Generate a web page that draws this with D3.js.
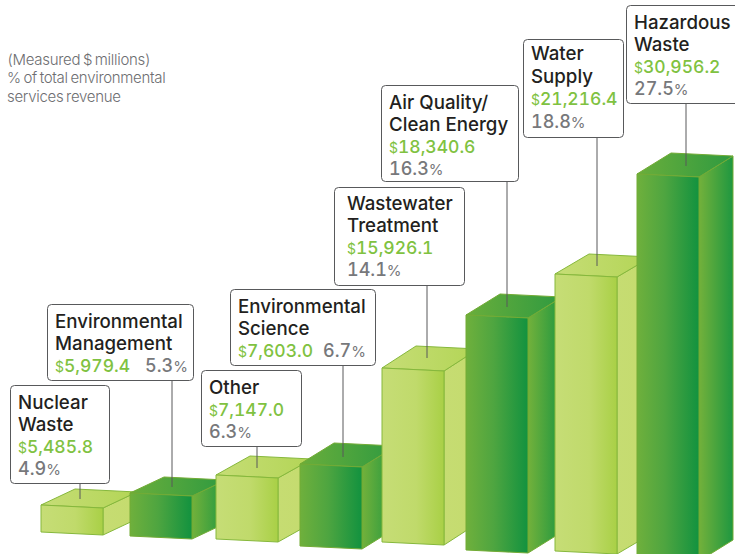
<!DOCTYPE html>
<html>
<head>
<meta charset="utf-8">
<script src="https://cdn.jsdelivr.net/npm/d3@7"></script>
<style>
  body { margin: 0; background: #fff; }
  svg { display: block; }
  text { font-family: Inter, "Liberation Sans", sans-serif; font-variant-numeric: tabular-nums; }
</style>
</head>
<body>
<div id="chart"></div>
<script>
const categories = ["Nuclear Waste", "Environmental Management", "Other", "Environmental Science",
  "Wastewater Treatment", "Air Quality/ Clean Energy", "Water Supply", "Hazardous Waste"];
const nameLines = [["Nuclear", "Waste"], ["Environmental", "Management"], ["Other"], ["Environmental", "Science"],
  ["Wastewater", "Treatment"], ["Air Quality/", "Clean Energy"], ["Water", "Supply"], ["Hazardous", "Waste"]];
const revenue = [5485.8, 5979.4, 7147.0, 7603.0, 15926.1, 18340.6, 21216.4, 30956.2];
const share = [4.9, 5.3, 6.3, 6.7, 14.1, 16.3, 18.8, 27.5];
const noteLines = ["(Measured $ millions)", "% of total environmental", "services revenue"];

// the bars in the source are not drawn to a linear scale, so the height scale is piecewise
const heightStops = [27, 43, 64, 82, 174, 235, 277, 384];
const leftStops = [41, 130, 216, 300, 382, 466, 555, 637];
const baseStops = [532, 536, 539, 546, 542, 550, 551, 558];
const depthStops = [16, 16, 19, 21, 22, 21, 20, 21];

// callout boxes: x, y, w, h, leader x, leader end y, text inset, first baseline, row gap, x of pct when on the value row
const boxes = [
  { x: 10, y: 385, w: 99, h: 98, lx: 80, ly: 499, pad: 8, first: 24, gap: 22 },
  { x: 47, y: 304, w: 146, h: 76, lx: 172, ly: 487, pad: 8, first: 24, gap: 22, pctX: 145 },
  { x: 201, y: 370, w: 100, h: 76, lx: 257, ly: 468, pad: 8, first: 24, gap: 22 },
  { x: 230, y: 289, w: 145, h: 76, lx: 343, ly: 457, pad: 8, first: 24, gap: 22, pctX: 323 },
  { x: 334, y: 187, w: 130, h: 98, lx: 427, ly: 358, pad: 13, first: 23, gap: 22 },
  { x: 381, y: 85, w: 137, h: 96, lx: 507, ly: 307, pad: 8, first: 24, gap: 22 },
  { x: 523, y: 39, w: 100, h: 98, lx: 597, ly: 266, pad: 8, first: 21, gap: 22.6 },
  { x: 626, y: 5, w: 120, h: 98, lx: 686, ly: 166, pad: 8, first: 24, gap: 22 }
];

const width = 735, height = 554;
const barW = 62, depthX = 34, tilt = 3;

const svg = d3.select("#chart").append("svg")
  .attr("width", width)
  .attr("height", height);

const h = d3.scaleLinear().domain(revenue).range(heightStops);
const left = d3.scaleOrdinal().domain(categories).range(leftStops);
const base = d3.scaleOrdinal().domain(categories).range(baseStops);
const depth = d3.scaleOrdinal().domain(categories).range(depthStops);

const defs = svg.append("defs");
function gradient(id, stops) {
  const g = defs.append("linearGradient").attr("id", id);
  stops.forEach(s => g.append("stop").attr("offset", s[0]).attr("stop-color", s[1]));
}
gradient("lightFront", [[0, "#c6dd76"], [0.55, "#c0da6b"], [1, "#a9d046"]]);
gradient("lightTop", [[0, "#c6dd76"], [1, "#b3d556"]]);
gradient("lightSide", [[0, "#c6dc72"], [1, "#c4db6e"]]);
gradient("darkFront", [[0, "#6fb03c"], [0.45, "#4ea540"], [1, "#12923f"]]);
gradient("darkTop", [[0, "#6aae3b"], [1, "#2f9a40"]]);
gradient("darkSide", [[0, "#73b13b"], [1, "#1e9740"]]);

const line = d3.line().curve(d3.curveLinearClosed);

const rows = categories.map((c, i) => {
  const x0 = left(c), x1 = x0 + barW, yb = base(c), yt = yb - h(revenue[i]), d = depth(c);
  return { c, i, x0, x1, yb, yt, d, kind: i % 2 ? "dark" : "light" };
});

const bars = svg.append("g").selectAll("g").data(rows).join("g")
  .attr("stroke", d => d.kind === "dark" ? "#72ab35" : "#86b83c")
  .attr("stroke-width", 1)
  .attr("stroke-linejoin", "round");

bars.append("path")
  .attr("fill", d => `url(#${d.kind}Side)`)
  .attr("d", d => line([[d.x1, d.yt + tilt], [d.x1 + depthX, d.yt + tilt - d.d], [d.x1 + depthX, d.yb + tilt - d.d], [d.x1, d.yb + tilt]]));

bars.append("path")
  .attr("fill", d => `url(#${d.kind}Top)`)
  .attr("d", d => line([[d.x0, d.yt], [d.x0 + depthX, d.yt - d.d], [d.x1 + depthX, d.yt + tilt - d.d], [d.x1, d.yt + tilt]]));

bars.append("path")
  .attr("fill", d => `url(#${d.kind}Front)`)
  .attr("d", d => line([[d.x0, d.yt], [d.x1, d.yt + tilt], [d.x1, d.yb + tilt], [d.x0, d.yb]]));

// leader lines + callouts
const callouts = svg.append("g").selectAll("g").data(rows).join("g");

callouts.append("line")
  .attr("x1", d => boxes[d.i].lx)
  .attr("x2", d => boxes[d.i].lx)
  .attr("y1", d => boxes[d.i].y + boxes[d.i].h)
  .attr("y2", d => boxes[d.i].ly)
  .attr("stroke", "#58595b")
  .attr("stroke-width", 1);

callouts.append("rect")
  .attr("x", d => boxes[d.i].x + 0.5)
  .attr("y", d => boxes[d.i].y + 0.5)
  .attr("width", d => boxes[d.i].w)
  .attr("height", d => boxes[d.i].h)
  .attr("rx", 4)
  .attr("fill", "#fff")
  .attr("stroke", "#58595b")
  .attr("stroke-width", 1);

const fmtMoney = d3.format(",.1f");
const green = "#7fc241", grey = "#77787b";

callouts.each(function(d) {
  const g = d3.select(this), b = boxes[d.i], tx = b.x + b.pad;
  let y = b.y + b.first;
  nameLines[d.i].forEach(t => {
    g.append("text").attr("x", tx).attr("y", y)
      .attr("font-size", 18.7).attr("font-weight", 500).attr("fill", "#231f20").text(t);
    y += b.gap;
  });
  const val = g.append("text").attr("x", tx).attr("y", y)
    .attr("font-size", 17.5).attr("font-weight", 500).attr("fill", green);
  val.append("tspan").attr("font-size", 14).attr("font-weight", 400).text("$");
  val.append("tspan").text(fmtMoney(revenue[d.i]));
  if (b.pctX === undefined) y += b.gap;
  const pct = g.append("text").attr("x", b.pctX === undefined ? tx : b.pctX).attr("y", y)
    .attr("font-size", 18).attr("font-weight", 500).attr("fill", grey);
  pct.append("tspan").text(share[d.i].toFixed(1));
  pct.append("tspan").attr("font-size", 15).attr("font-weight", 400).text("%");
});

svg.append("g").selectAll("text").data(noteLines).join("text")
  .attr("x", 7)
  .attr("y", (d, i) => 64.5 + i * 18.7)
  .attr("font-size", 15)
  .attr("font-weight", 300)
  .attr("letter-spacing", -0.3)
  .attr("word-spacing", -1)
  .attr("fill", "#6d6e71")
  .text(d => d);
</script>
</body>
</html>
